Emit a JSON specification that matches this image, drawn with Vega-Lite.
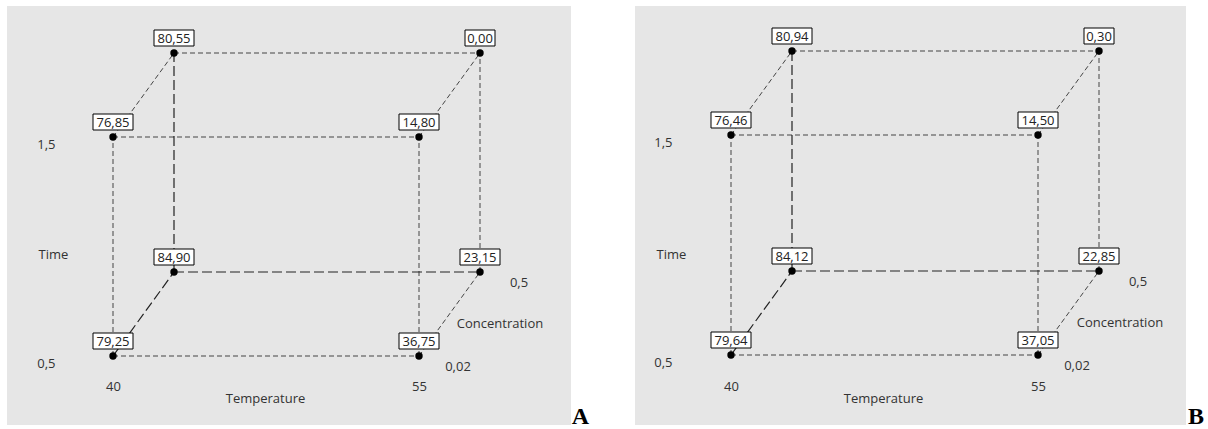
{
  "$schema": "https://vega.github.io/schema/vega-lite/v6.json",
  "padding": {"left": 7, "top": 6, "right": 0, "bottom": 0},
  "background": "white",
  "bounds": "flush",
  "spacing": 64,
  "config": {
    "locale": {"number": {"decimal": ",", "thousands": ".", "grouping": [3], "currency": ["", " €"]}},
    "view": {"fill": "#e6e6e6", "stroke": null},
    "font": "Open Sans"
  },
  "datasets": {
    "edges": [
      {"edge": "f-bottom", "Temperature": 40, "Time": 0.5, "Concentration": 0.02, "hidden": false},
      {"edge": "f-bottom", "Temperature": 55, "Time": 0.5, "Concentration": 0.02, "hidden": false},
      {"edge": "f-top", "Temperature": 40, "Time": 1.5, "Concentration": 0.02, "hidden": false},
      {"edge": "f-top", "Temperature": 55, "Time": 1.5, "Concentration": 0.02, "hidden": false},
      {"edge": "f-left", "Temperature": 40, "Time": 0.5, "Concentration": 0.02, "hidden": false},
      {"edge": "f-left", "Temperature": 40, "Time": 1.5, "Concentration": 0.02, "hidden": false},
      {"edge": "f-right", "Temperature": 55, "Time": 0.5, "Concentration": 0.02, "hidden": false},
      {"edge": "f-right", "Temperature": 55, "Time": 1.5, "Concentration": 0.02, "hidden": false},
      {"edge": "b-bottom", "Temperature": 40, "Time": 0.5, "Concentration": 0.5, "hidden": true},
      {"edge": "b-bottom", "Temperature": 55, "Time": 0.5, "Concentration": 0.5, "hidden": true},
      {"edge": "b-top", "Temperature": 40, "Time": 1.5, "Concentration": 0.5, "hidden": false},
      {"edge": "b-top", "Temperature": 55, "Time": 1.5, "Concentration": 0.5, "hidden": false},
      {"edge": "b-left", "Temperature": 40, "Time": 0.5, "Concentration": 0.5, "hidden": true},
      {"edge": "b-left", "Temperature": 40, "Time": 1.5, "Concentration": 0.5, "hidden": true},
      {"edge": "b-right", "Temperature": 55, "Time": 0.5, "Concentration": 0.5, "hidden": false},
      {"edge": "b-right", "Temperature": 55, "Time": 1.5, "Concentration": 0.5, "hidden": false},
      {"edge": "d-40-low", "Temperature": 40, "Time": 0.5, "Concentration": 0.02, "hidden": true},
      {"edge": "d-40-low", "Temperature": 40, "Time": 0.5, "Concentration": 0.5, "hidden": true},
      {"edge": "d-55-low", "Temperature": 55, "Time": 0.5, "Concentration": 0.02, "hidden": false},
      {"edge": "d-55-low", "Temperature": 55, "Time": 0.5, "Concentration": 0.5, "hidden": false},
      {"edge": "d-40-high", "Temperature": 40, "Time": 1.5, "Concentration": 0.02, "hidden": false},
      {"edge": "d-40-high", "Temperature": 40, "Time": 1.5, "Concentration": 0.5, "hidden": false},
      {"edge": "d-55-high", "Temperature": 55, "Time": 1.5, "Concentration": 0.02, "hidden": false},
      {"edge": "d-55-high", "Temperature": 55, "Time": 1.5, "Concentration": 0.5, "hidden": false}
    ],
    "cubeA": [
      {"Temperature": 40, "Time": 1.5, "Concentration": 0.02, "Yield": 76.85},
      {"Temperature": 55, "Time": 1.5, "Concentration": 0.02, "Yield": 14.80},
      {"Temperature": 40, "Time": 0.5, "Concentration": 0.02, "Yield": 79.25},
      {"Temperature": 55, "Time": 0.5, "Concentration": 0.02, "Yield": 36.75},
      {"Temperature": 40, "Time": 1.5, "Concentration": 0.5, "Yield": 80.55},
      {"Temperature": 55, "Time": 1.5, "Concentration": 0.5, "Yield": 0.00},
      {"Temperature": 40, "Time": 0.5, "Concentration": 0.5, "Yield": 84.90},
      {"Temperature": 55, "Time": 0.5, "Concentration": 0.5, "Yield": 23.15}
    ],
    "cubeB": [
      {"Temperature": 40, "Time": 1.5, "Concentration": 0.02, "Yield": 76.46},
      {"Temperature": 55, "Time": 1.5, "Concentration": 0.02, "Yield": 14.50},
      {"Temperature": 40, "Time": 0.5, "Concentration": 0.02, "Yield": 79.64},
      {"Temperature": 55, "Time": 0.5, "Concentration": 0.02, "Yield": 37.05},
      {"Temperature": 40, "Time": 1.5, "Concentration": 0.5, "Yield": 80.94},
      {"Temperature": 55, "Time": 1.5, "Concentration": 0.5, "Yield": 0.30},
      {"Temperature": 40, "Time": 0.5, "Concentration": 0.5, "Yield": 84.12},
      {"Temperature": 55, "Time": 0.5, "Concentration": 0.5, "Yield": 22.85}
    ],
    "concTicks": [
      {"Temperature": 55, "Time": 0.5, "Concentration": 0.02},
      {"Temperature": 55, "Time": 0.5, "Concentration": 0.5}
    ]
  },
  "hconcat": [
    {
      "width": 564,
      "height": 419,
      "title": {"text": "A", "orient": "bottom", "anchor": "end", "frame": "group", "font": "Liberation Serif", "fontSize": 24, "fontWeight": "bold", "color": "black", "baseline": "alphabetic", "offset": -1, "dx": 18},
      "encoding": {
        "x": {"field": "Temperature", "type": "ordinal",
          "scale": {"type": "point", "domain": [40, 55], "range": [106, 412], "padding": 0},
          "axis": {"offset": -45, "domain": false, "ticks": false, "tickSize": 0, "grid": false, "labelAngle": 0, "labelPadding": 0, "labelFontSize": 13, "labelColor": "#333", "title": "Temperature", "titleFontSize": 13, "titleFontWeight": "normal", "titleColor": "#333", "titleX": 258, "titleY": 12, "titleBaseline": "top", "titleAlign": "center"}},
        "y": {"field": "Time", "type": "ordinal",
          "scale": {"type": "point", "domain": [0.5, 1.5], "range": [350, 131], "padding": 0},
          "axis": {"labelExpr": "replace(format(datum.value, '.1f'), '.', ',')", "offset": -48, "domain": false, "ticks": false, "tickSize": 0, "grid": false, "labelPadding": 0, "labelOffset": 7, "labelFontSize": 13, "labelColor": "#333", "title": "Time", "titleAngle": 0, "titleFontSize": 13, "titleFontWeight": "normal", "titleColor": "#333", "titleX": -2, "titleY": 248, "titleAlign": "center", "titleBaseline": "middle"}},
        "xOffset": {"field": "Concentration", "type": "quantitative", "scale": {"domain": [0.02, 0.5], "range": [0, 61]}},
        "yOffset": {"field": "Concentration", "type": "quantitative", "scale": {"domain": [0.02, 0.5], "range": [0, -84]}}
      },
      "layer": [
        {"data": {"name": "edges"}, "transform": [{"filter": "!datum.hidden"}],
         "mark": {"type": "line", "color": "#444", "strokeWidth": 1, "strokeDash": [5, 3]},
         "encoding": {"detail": {"field": "edge"}}},
        {"data": {"name": "edges"}, "transform": [{"filter": "datum.hidden"}],
         "mark": {"type": "line", "color": "#222", "strokeWidth": 1.2, "strokeDash": [10, 4]},
         "encoding": {"detail": {"field": "edge"}}},
        {"data": {"name": "cubeA"},
         "mark": {"type": "point", "filled": false, "fill": "white", "stroke": "black", "strokeWidth": 1, "opacity": 1, "fillOpacity": 1},
         "encoding": {
           "shape": {"condition": {"test": "datum.Yield < 10", "value": "M-1,-1.533L1,-1.533L1,-0.467L-1,-0.467Z"}, "value": "M-1,-1.15L1,-1.15L1,-0.35L-1,-0.35Z"},
           "size": {"condition": {"test": "datum.Yield < 10", "value": 900}, "value": 1600}}},
        {"data": {"name": "cubeA"},
         "mark": {"type": "text", "fontSize": 13, "color": "#222", "baseline": "middle", "align": "center", "dy": -14},
         "encoding": {"text": {"field": "Yield", "type": "quantitative", "format": ".2f"}}},
        {"data": {"name": "cubeA"},
         "mark": {"type": "point", "filled": true, "color": "black", "opacity": 1, "size": 55}},
        {"data": {"name": "concTicks"},
         "mark": {"type": "text", "fontSize": 13, "color": "#333", "baseline": "middle", "align": "center", "dx": 39, "dy": 11},
         "encoding": {"text": {"field": "Concentration", "type": "quantitative", "format": ".2~f"}}},
        {"data": {"name": "concTicks"}, "transform": [{"filter": "datum.Concentration == 0.02"}],
         "mark": {"type": "text", "text": "Concentration", "fontSize": 13, "color": "#333", "baseline": "middle", "align": "center", "dx": 81, "dy": -32}}
      ]
    },
    {
      "width": 551,
      "height": 419,
      "title": {"text": "B", "orient": "bottom", "anchor": "end", "frame": "group", "font": "Liberation Serif", "fontSize": 24, "fontWeight": "bold", "color": "black", "baseline": "alphabetic", "offset": -1, "dx": 18},
      "encoding": {
        "x": {"field": "Temperature", "type": "ordinal",
          "scale": {"type": "point", "domain": [40, 55], "range": [96, 403], "padding": 0},
          "axis": {"offset": -45, "domain": false, "ticks": false, "tickSize": 0, "grid": false, "labelAngle": 0, "labelPadding": 0, "labelFontSize": 13, "labelColor": "#333", "title": "Temperature", "titleFontSize": 13, "titleFontWeight": "normal", "titleColor": "#333", "titleX": 248, "titleY": 12, "titleBaseline": "top", "titleAlign": "center"}},
        "y": {"field": "Time", "type": "ordinal",
          "scale": {"type": "point", "domain": [0.5, 1.5], "range": [349, 129], "padding": 0},
          "axis": {"labelExpr": "replace(format(datum.value, '.1f'), '.', ',')", "offset": -37, "domain": false, "ticks": false, "tickSize": 0, "grid": false, "labelPadding": 0, "labelOffset": 7, "labelFontSize": 13, "labelColor": "#333", "title": "Time", "titleAngle": 0, "titleFontSize": 13, "titleFontWeight": "normal", "titleColor": "#333", "titleX": -1, "titleY": 248, "titleAlign": "center", "titleBaseline": "middle"}},
        "xOffset": {"field": "Concentration", "type": "quantitative", "scale": {"domain": [0.02, 0.5], "range": [0, 62]}},
        "yOffset": {"field": "Concentration", "type": "quantitative", "scale": {"domain": [0.02, 0.5], "range": [0, -85]}}
      },
      "layer": [
        {"data": {"name": "edges"}, "transform": [{"filter": "!datum.hidden"}],
         "mark": {"type": "line", "color": "#444", "strokeWidth": 1, "strokeDash": [5, 3]},
         "encoding": {"detail": {"field": "edge"}}},
        {"data": {"name": "edges"}, "transform": [{"filter": "datum.hidden"}],
         "mark": {"type": "line", "color": "#222", "strokeWidth": 1.2, "strokeDash": [10, 4]},
         "encoding": {"detail": {"field": "edge"}}},
        {"data": {"name": "cubeB"},
         "mark": {"type": "point", "filled": false, "fill": "white", "stroke": "black", "strokeWidth": 1, "opacity": 1, "fillOpacity": 1},
         "encoding": {
           "shape": {"condition": {"test": "datum.Yield < 10", "value": "M-1,-1.533L1,-1.533L1,-0.467L-1,-0.467Z"}, "value": "M-1,-1.15L1,-1.15L1,-0.35L-1,-0.35Z"},
           "size": {"condition": {"test": "datum.Yield < 10", "value": 900}, "value": 1600}}},
        {"data": {"name": "cubeB"},
         "mark": {"type": "text", "fontSize": 13, "color": "#222", "baseline": "middle", "align": "center", "dy": -14},
         "encoding": {"text": {"field": "Yield", "type": "quantitative", "format": ".2f"}}},
        {"data": {"name": "cubeB"},
         "mark": {"type": "point", "filled": true, "color": "black", "opacity": 1, "size": 55}},
        {"data": {"name": "concTicks"},
         "mark": {"type": "text", "fontSize": 13, "color": "#333", "baseline": "middle", "align": "center", "dx": 39, "dy": 11},
         "encoding": {"text": {"field": "Concentration", "type": "quantitative", "format": ".2~f"}}},
        {"data": {"name": "concTicks"}, "transform": [{"filter": "datum.Concentration == 0.02"}],
         "mark": {"type": "text", "text": "Concentration", "fontSize": 13, "color": "#333", "baseline": "middle", "align": "center", "dx": 82, "dy": -32}}
      ]
    }
  ]
}
